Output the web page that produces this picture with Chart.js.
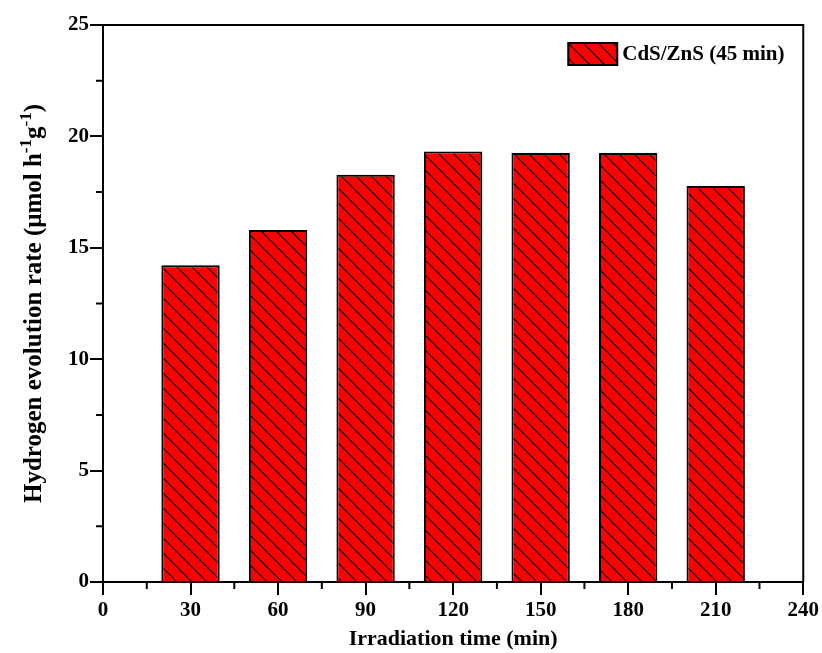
<!DOCTYPE html>
<html>
<head>
<meta charset="utf-8">
<script src="https://cdn.jsdelivr.net/npm/chart.js@4"></script>
<style>
  html, body { margin: 0; padding: 0; background: #fff; }
  #wrap { width: 822px; height: 653px; }
</style>
</head>
<body>
<div id="wrap"><canvas id="rateChart" width="822" height="653"></canvas></div>
<script>
const times = [30, 60, 90, 120, 150, 180, 210];
const rates = [14.22, 15.8, 18.28, 19.32, 19.25, 19.25, 17.77];
const seriesLabel = 'CdS/ZnS (45 min)';
const xTicks = [0, 30, 60, 90, 120, 150, 180, 210, 240];
const yTicks = [0, 5, 10, 15, 20, 25];
// y title pieces: [text, superscript?]
const yTitle = [['Hydrogen evolution rate (\u03bcmol h', false], ['-1', true], ['g', false], ['-1', true], [')', false]];

const serif = '"Liberation Serif", "Times New Roman", serif';

function makeHatch() {
    const s = 15;
    const c = document.createElement('canvas');
    c.width = s; c.height = s;
    const g = c.getContext('2d');
    g.fillStyle = '#ff0000';
    g.fillRect(0, 0, s, s);
    g.strokeStyle = '#000';
    g.lineWidth = 1.1;
    g.beginPath();
    g.moveTo(-2, -2); g.lineTo(s + 2, s + 2);
    g.moveTo(-2, s - 2); g.lineTo(2, s + 2);
    g.moveTo(s - 2, -2); g.lineTo(s + 2, 2);
    g.stroke();
    return document.getElementById('rateChart').getContext('2d').createPattern(c, 'repeat');
}
const hatch = makeHatch();

// frame, minor ticks, y title with superscripts and the in-plot legend
const extras = {
    id: 'extras',
    afterDraw(chart) {
        const ctx = chart.ctx;
        const a = chart.chartArea;
        const xs = chart.scales.x, ys = chart.scales.y;
        ctx.save();
        ctx.strokeStyle = '#000';
        ctx.lineWidth = 2;
        ctx.beginPath();
        ctx.moveTo(a.left, a.top); ctx.lineTo(a.right, a.top); ctx.lineTo(a.right, a.bottom);
        ctx.stroke();
        ctx.beginPath();
        for (let i = 0; i < xTicks.length - 1; i++) {
            const px = xs.getPixelForValue((xTicks[i] + xTicks[i + 1]) / 2);
            ctx.moveTo(px, a.bottom); ctx.lineTo(px, a.bottom + 7);
        }
        for (let i = 0; i < yTicks.length - 1; i++) {
            const py = ys.getPixelForValue((yTicks[i] + yTicks[i + 1]) / 2);
            ctx.moveTo(a.left, py); ctx.lineTo(a.left - 7, py);
        }
        ctx.stroke();

        // y axis title
        const big = 'bold 25px ' + serif, small = 'bold 17px ' + serif;
        let total = 0;
        yTitle.forEach(([t, sup]) => { ctx.font = sup ? small : big; total += ctx.measureText(t).width; });
        ctx.translate(41, (a.top + a.bottom) / 2);
        ctx.rotate(-Math.PI / 2);
        ctx.fillStyle = '#000';
        ctx.textBaseline = 'alphabetic';
        let x = -total / 2;
        yTitle.forEach(([t, sup]) => {
            ctx.font = sup ? small : big;
            ctx.fillText(t, x, sup ? -10 : 0);
            x += ctx.measureText(t).width;
        });
        ctx.setTransform(1, 0, 0, 1, 0, 0);

        // legend
        const bx = a.right - 235, by = a.top + 18, bw = 49, bh = 22;
        ctx.fillStyle = hatch;
        ctx.fillRect(bx, by, bw, bh);
        ctx.lineWidth = 2;
        ctx.strokeRect(bx, by, bw, bh);
        ctx.fillStyle = '#000';
        ctx.font = 'bold 21px ' + serif;
        ctx.textBaseline = 'middle';
        ctx.fillText(seriesLabel, bx + bw + 5, by + bh / 2 + 1);
        ctx.restore();
    }
};

new Chart(document.getElementById('rateChart'), {
    type: 'bar',
    data: {
        datasets: [{
            label: seriesLabel,
            data: times.map((t, i) => ({ x: t, y: rates[i] })),
            backgroundColor: hatch,
            borderColor: '#000',
            borderWidth: 2,
            barPercentage: 1,
            categoryPercentage: 20 / 30
        }]
    },
    options: {
        responsive: false,
        animation: false,
        layout: { padding: { top: 25, right: 14, left: 0, bottom: 0 } },
        plugins: { legend: { display: false }, tooltip: { enabled: false } },
        scales: {
            x: {
                type: 'linear',
                offset: false,
                min: 0, max: 240,
                afterBuildTicks: s => { s.ticks = xTicks.map(v => ({ value: v })); },
                afterFit: s => { s.height = 71; },
                border: { color: '#000', width: 2 },
                grid: { offset: false, drawOnChartArea: false, color: '#000', lineWidth: 2, tickLength: 13 },
                ticks: { color: '#000', padding: 3, maxRotation: 0, font: { family: serif, size: 21, weight: 'bold' } },
                title: { display: true, text: 'Irradiation time (min)', color: '#000', padding: { top: 0, bottom: 0 },
                    font: { family: serif, size: 22, weight: 'bold' } }
            },
            y: {
                min: 0, max: 25,
                afterBuildTicks: s => { s.ticks = yTicks.map(v => ({ value: v })); },
                afterFit: s => { s.width = 103; },
                border: { color: '#000', width: 2 },
                grid: { offset: false, drawOnChartArea: false, color: '#000', lineWidth: 2, tickLength: 13 },
                ticks: { color: '#000', padding: 1, font: { family: serif, size: 21, weight: 'bold' } }
            }
        }
    },
    plugins: [extras]
});
</script>
</body>
</html>
